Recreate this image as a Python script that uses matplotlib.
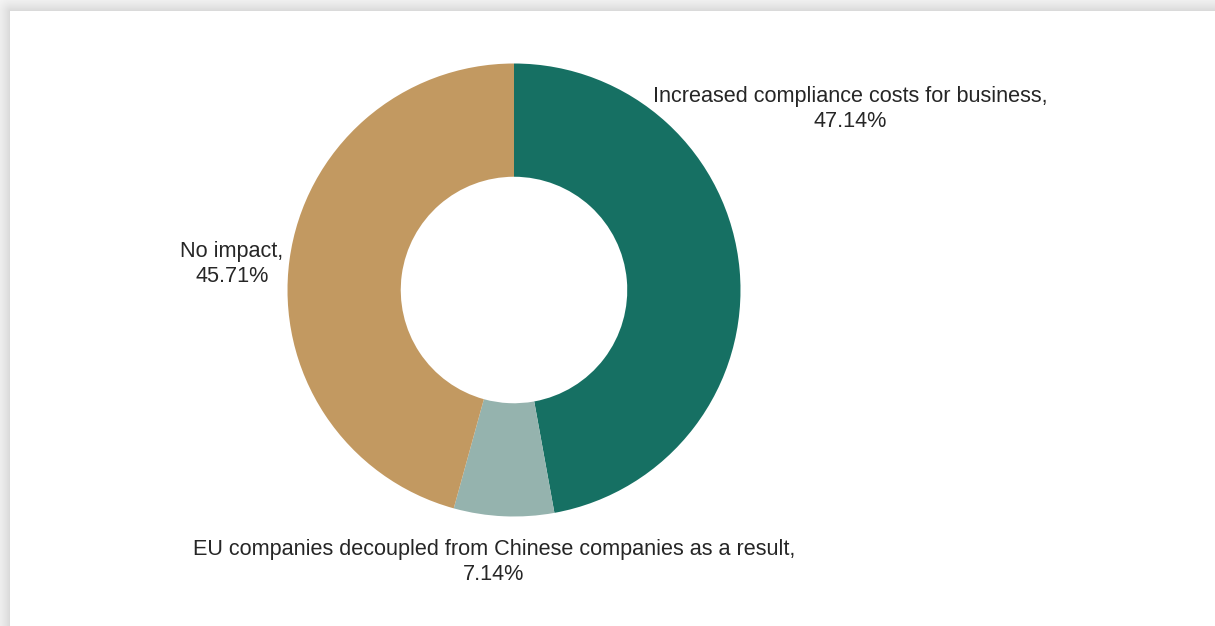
import numpy as np
import matplotlib
matplotlib.use("Agg")
import matplotlib.pyplot as plt

# Survey responses (share of respondents, %)
categories = [
    "Increased compliance costs for business",
    "EU companies decoupled from Chinese companies as a result",
    "No impact",
]
shares = [47.14, 7.14, 45.71]
colors = ["#167063", "#95b3ae", "#c29961"]

W, H, DPI = 1215, 626, 100
fig = plt.figure(figsize=(W / DPI, H / DPI), dpi=DPI)
fig.patch.set_facecolor("white")

# Card background with a soft drop shadow along its top and left edges
card_x0, card_y0 = 10, 11
yy, xx = np.mgrid[0:H, 0:W]
dx = np.clip(card_x0 - xx, 0, None)
dy = np.clip(card_y0 - yy, 0, None)
d = np.sqrt(dx ** 2 + dy ** 2).astype(float)
shade = 255 - 40 * np.exp(-d / 12.0)
inside = (xx >= card_x0) & (yy >= card_y0)
shade[inside] = 255
img = np.repeat(shade[:, :, None], 3, axis=2).astype(np.uint8)
fig.figimage(img, xo=0, yo=0, origin="upper", zorder=0)

# Donut chart
cx, cy, R = 514, 290, 226.5
ax = fig.add_axes([(cx - R) / W, (H - cy - R) / H, 2 * R / W, 2 * R / H])
ax.set_zorder(2)
ax.set_facecolor("none")
ax.pie(
    shares,
    colors=colors,
    startangle=90,
    counterclock=False,
    radius=1.0,
    wedgeprops=dict(width=0.5, linewidth=0),
)
ax.set_xlim(-1, 1)
ax.set_ylim(-1, 1)
ax.axis("off")

font = dict(family=["Liberation Sans", "DejaVu Sans"], fontsize=15.6,
            color="#262626", ha="center", va="center", linespacing=1.2,
            zorder=3)

label_pos = [(850, 109), (494, 562), (232, 264)]
for name, val, (px, py) in zip(categories, shares, label_pos):
    fig.text(px / W, 1 - py / H, f"{name},\n{val:.2f}%", **font)

fig.savefig("out.png", dpi=DPI)
